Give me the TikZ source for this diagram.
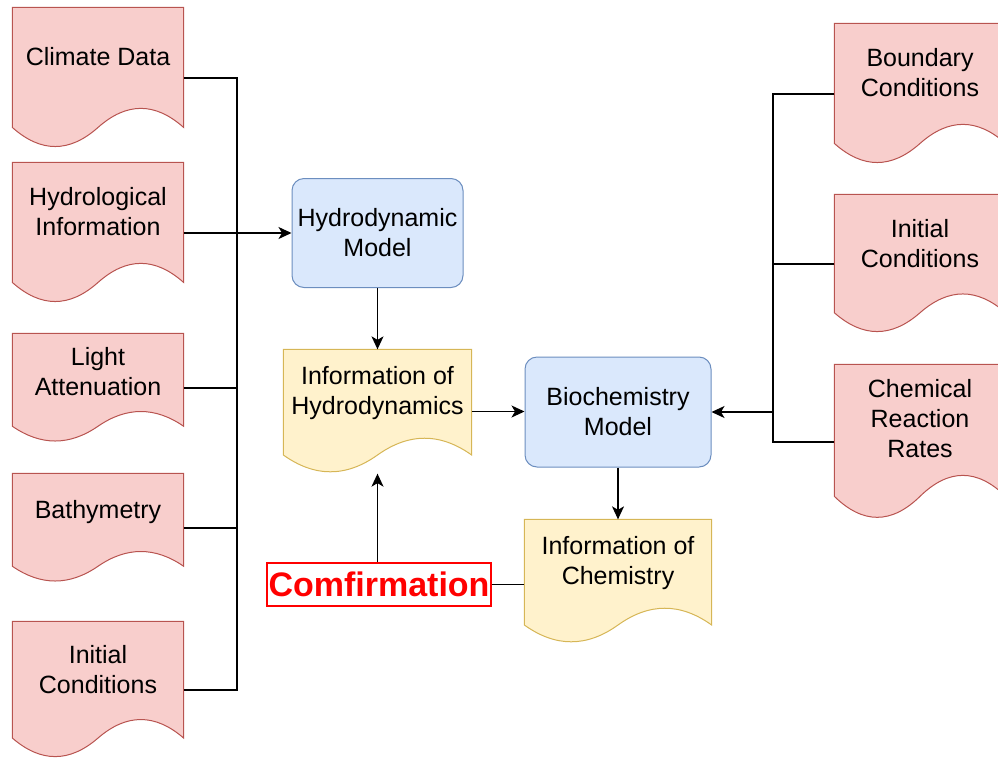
\documentclass[tikz,border=0pt]{standalone}
\usepackage{fontspec}
\setmainfont{Liberation Sans}
\usepackage{tikz}
\usetikzlibrary{calc,arrows.meta}

\definecolor{docfill}{HTML}{F8CECC}
\definecolor{docline}{HTML}{B85450}
\definecolor{infofill}{HTML}{FFF2CC}
\definecolor{infoline}{HTML}{D6B656}
\definecolor{modfill}{HTML}{DAE8FC}
\definecolor{modline}{HTML}{6C8EBF}

% wavy document outline round a frame node
\newcommand{\docoutline}[2]{%
  \path[#2] let \p1=(#1.north west), \p2=(#1.south east),
    \n1={\x2-\x1}, \n2={\y2-\y1} in
    (\x1,\y1) -- (\x2,\y1) -- (\x2,{\y1+0.85*\n2})
    .. controls ({\x1+0.8333*\n1},{\y1+0.67*\n2}) and ({\x1+0.6667*\n1},{\y1+0.67*\n2}) .. ({\x1+0.5*\n1},{\y1+0.85*\n2})
    .. controls ({\x1+0.3333*\n1},{\y1+1.03*\n2}) and ({\x1+0.1667*\n1},{\y1+1.03*\n2}) .. (\x1,{\y1+0.85*\n2}) -- cycle;}

\begin{document}
\begin{tikzpicture}[x=1pt, y=-1pt,
  docframe/.style={minimum width=170, minimum height=#1, inner sep=0},
  doctext/.style={align=center, font=\fontsize{25}{30}\selectfont},
  model/.style={rectangle, rounded corners=12, fill=modfill, draw=modline, line width=1,
    align=center, font=\fontsize{25}{30}\selectfont},
  arr/.style={-{Stealth[length=13pt, width=12pt, inset=3.5pt]}},
  line width=1.3]
\useasboundingbox (0,0) rectangle (998,758);
% Input documents
\foreach \nm/\cx/\y/\h/\t in {clim/98/8/140/Climate Data, hydinfo/98/163/140/Hydrological\\Information,
    light/98/334/108/Light\\Attenuation, bathy/98/474/108/Bathymetry, initL/98/622/136/Initial\\Conditions,
    bound/920/24/140/Boundary\\Conditions, initR/920/195/138/Initial\\Conditions,
    chem/920/365/154/Chemical\\Reaction\\Rates} {
  \node[docframe=\h] (\nm) at (\cx,\y+\h/2) {};
  \docoutline{\nm}{fill=docfill, draw=docline, line width=1}
  \node[doctext] (\nm-txt) at ($(\nm.north)!0.35!(\nm.south)$) {\t};
}
% Output documents
\foreach \nm/\cx/\w/\y/\t in {infohyd/377.5/187/350/Information of\\Hydrodynamics,
    infochem/618/186/520/Information of\\Chemistry} {
  \node[docframe=123, minimum width=\w] (\nm) at (\cx,\y+61.5) {};
  \docoutline{\nm}{fill=infofill, draw=infoline, line width=1}
  \node[doctext] (\nm-txt) at ($(\nm.north)!0.35!(\nm.south)$) {\t};
}
% Models
\node[model, minimum width=171, minimum height=109] (hydmod) at (377.5,233) {Hydrodynamic\\Model};
\node[model, minimum width=186, minimum height=110] (biomod) at (618,412) {Biochemistry\\Model};
\node[draw=red, fill=white, text=red, inner sep=0, minimum width=224, minimum height=43,
  font=\fontsize{34}{40}\selectfont\bfseries] (confirm) at (379,584.5) {Comfirmation};
% Edges
\coordinate (lbus) at (237,233);
\coordinate (rbus) at (773,412);
\draw (clim.east) -| (lbus) |- (initL.east);
\foreach \nm in {light, bathy} {
  \draw (\nm.east) -- (\nm.east -| lbus);
}
\draw[arr] (hydinfo.east) -- (hydmod.west);
\draw (bound.west) -| (rbus) |- (chem.west);
\draw (initR.west) -- (initR.west -| rbus);
\draw[arr] (rbus) -- (biomod.east);
\draw[arr] (hydmod.south) -- (infohyd.north);
\draw[arr] (infohyd.east) -- (infohyd.east -| biomod.west);
\draw[arr] (biomod.south) -- (infochem.north);
\draw (confirm.east) -- (confirm.east -| infochem.west);
\draw[arr] (confirm.north -| infohyd.south) -- (infohyd.south);
\end{tikzpicture}
\end{document}
